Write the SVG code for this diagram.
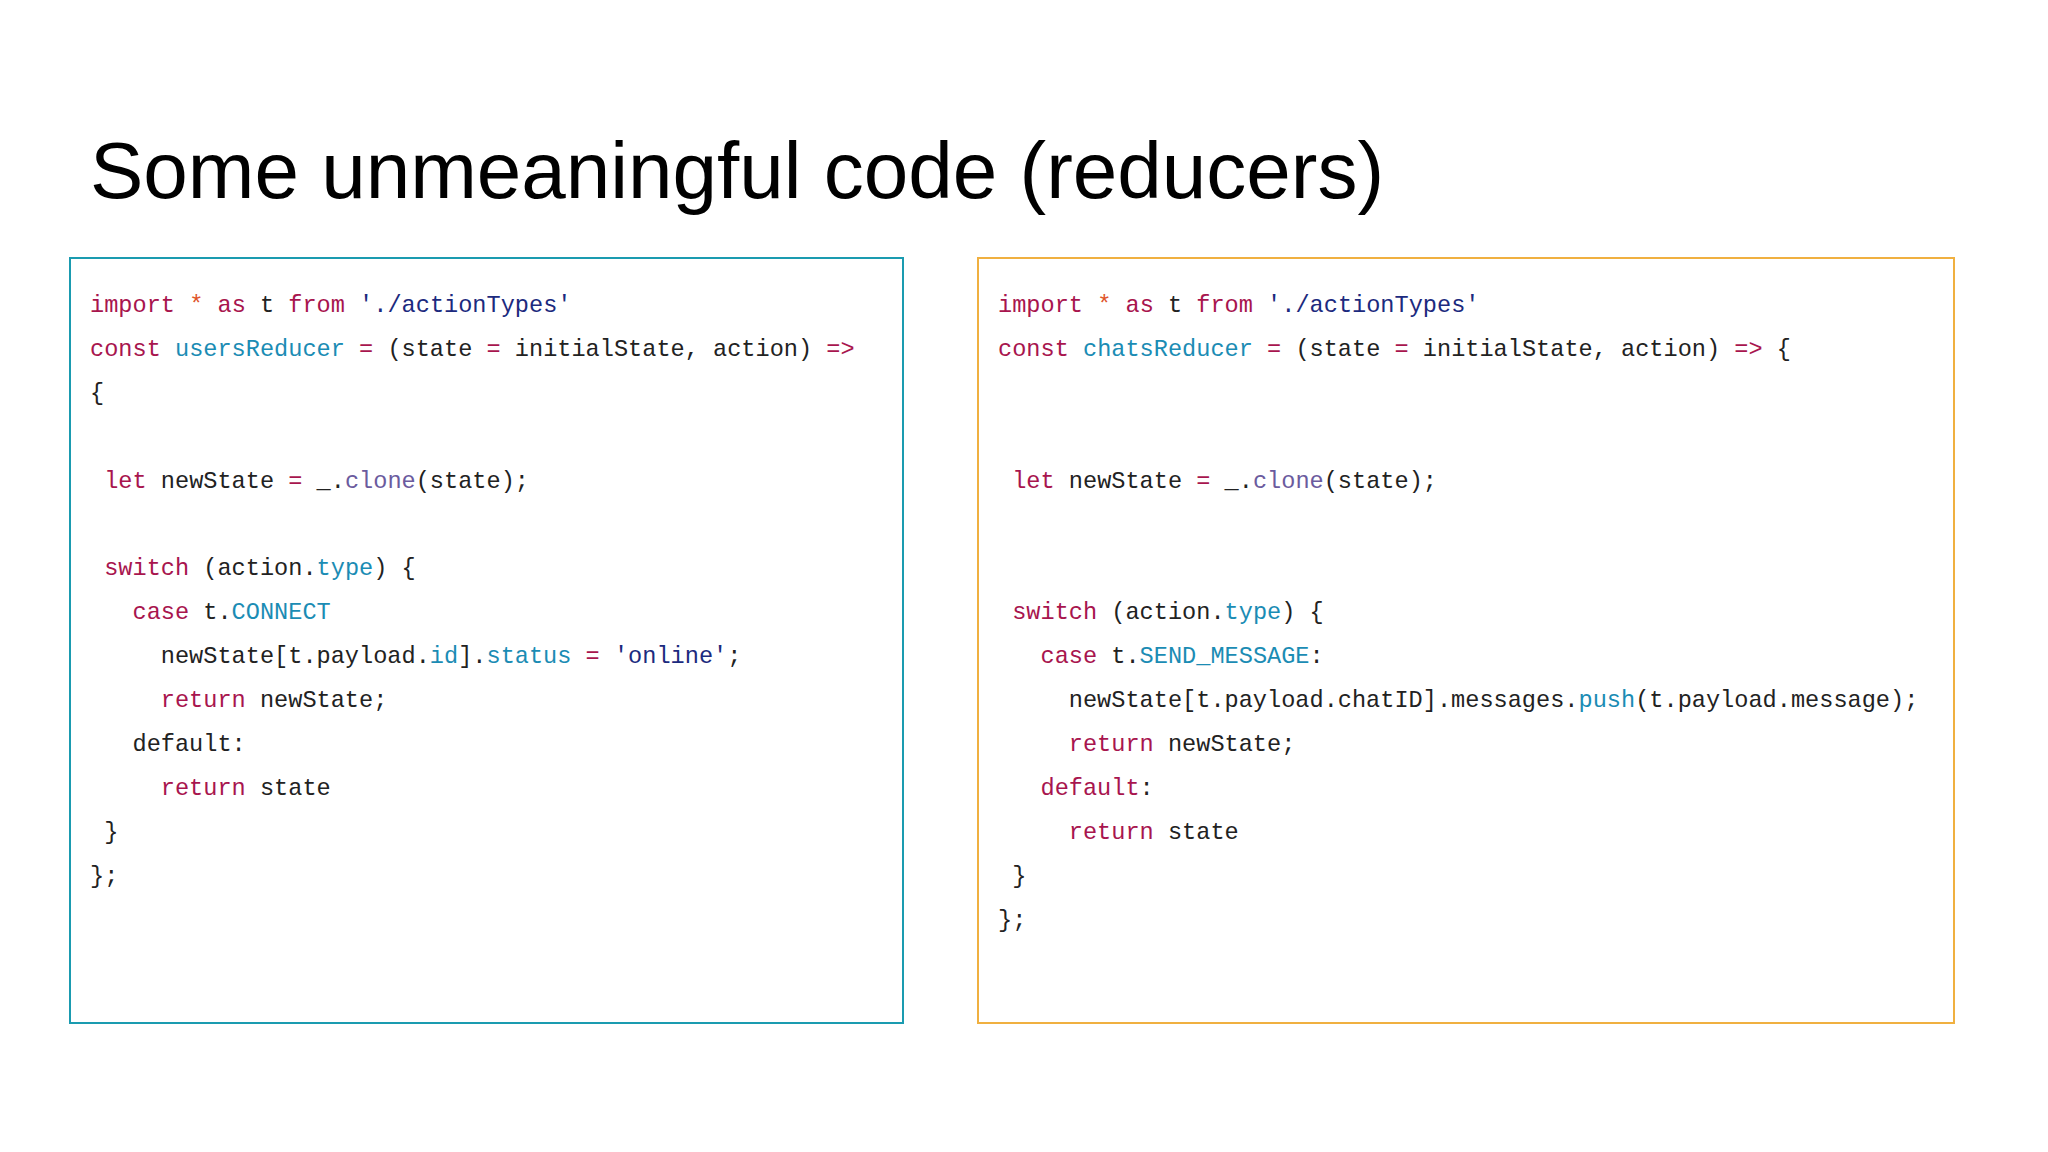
<svg xmlns="http://www.w3.org/2000/svg" width="2048" height="1152" viewBox="0 0 2048 1152">
<style>
.t{font-family:"Liberation Sans",Arial,sans-serif;font-size:80px;fill:#000}
.c{font-family:"Liberation Mono","DejaVu Sans Mono",monospace;font-size:23.6px;fill:#222;white-space:pre}
.k{fill:#a8154e}.b{fill:#1b8cb4}.s{fill:#1c2a7e}.p{fill:#6b5b9e}.o{fill:#e0552a}
</style>
<rect width="2048" height="1152" fill="#fff"/>
<text class="t" x="90" y="198">Some unmeaningful code (reducers)</text>
<g id="users">
<rect x="70" y="258" width="833" height="765" fill="none" stroke="#1a9bb0" stroke-width="2"/>
<text class="c" x="90" y="312" xml:space="preserve"><tspan class="k">import</tspan> <tspan class="o">*</tspan> <tspan class="k">as</tspan> t <tspan class="k">from</tspan> <tspan class="s">'./actionTypes'</tspan></text>
<text class="c" x="90" y="356" xml:space="preserve"><tspan class="k">const</tspan> <tspan class="b">usersReducer</tspan> <tspan class="k">=</tspan> (state <tspan class="k">=</tspan> initialState, action) <tspan class="k">=&gt;</tspan></text>
<text class="c" x="90" y="400" xml:space="preserve">{</text>
<text class="c" x="90" y="488" xml:space="preserve"> <tspan class="k">let</tspan> newState <tspan class="k">=</tspan> _.<tspan class="p">clone</tspan>(state);</text>
<text class="c" x="90" y="575" xml:space="preserve"> <tspan class="k">switch</tspan> (action.<tspan class="b">type</tspan>) {</text>
<text class="c" x="90" y="619" xml:space="preserve">   <tspan class="k">case</tspan> t.<tspan class="b">CONNECT</tspan></text>
<text class="c" x="90" y="663" xml:space="preserve">     newState[t.payload.<tspan class="b">id</tspan>].<tspan class="b">status</tspan> <tspan class="k">=</tspan> <tspan class="s">'online'</tspan>;</text>
<text class="c" x="90" y="707" xml:space="preserve">     <tspan class="k">return</tspan> newState;</text>
<text class="c" x="90" y="751" xml:space="preserve">   default:</text>
<text class="c" x="90" y="795" xml:space="preserve">     <tspan class="k">return</tspan> state</text>
<text class="c" x="90" y="839" xml:space="preserve"> }</text>
<text class="c" x="90" y="883" xml:space="preserve">};</text>
</g>
<g id="chats">
<rect x="978" y="258" width="976" height="765" fill="none" stroke="#f0b040" stroke-width="2"/>
<text class="c" x="998" y="312" xml:space="preserve"><tspan class="k">import</tspan> <tspan class="o">*</tspan> <tspan class="k">as</tspan> t <tspan class="k">from</tspan> <tspan class="s">'./actionTypes'</tspan></text>
<text class="c" x="998" y="356" xml:space="preserve"><tspan class="k">const</tspan> <tspan class="b">chatsReducer</tspan> <tspan class="k">=</tspan> (state <tspan class="k">=</tspan> initialState, action) <tspan class="k">=&gt;</tspan> {</text>
<text class="c" x="998" y="488" xml:space="preserve"> <tspan class="k">let</tspan> newState <tspan class="k">=</tspan> _.<tspan class="p">clone</tspan>(state);</text>
<text class="c" x="998" y="619" xml:space="preserve"> <tspan class="k">switch</tspan> (action.<tspan class="b">type</tspan>) {</text>
<text class="c" x="998" y="663" xml:space="preserve">   <tspan class="k">case</tspan> t.<tspan class="b">SEND_MESSAGE</tspan>:</text>
<text class="c" x="998" y="707" xml:space="preserve">     newState[t.payload.chatID].messages.<tspan class="b">push</tspan>(t.payload.message);</text>
<text class="c" x="998" y="751" xml:space="preserve">     <tspan class="k">return</tspan> newState;</text>
<text class="c" x="998" y="795" xml:space="preserve">   <tspan class="k">default</tspan>:</text>
<text class="c" x="998" y="839" xml:space="preserve">     <tspan class="k">return</tspan> state</text>
<text class="c" x="998" y="883" xml:space="preserve"> }</text>
<text class="c" x="998" y="927" xml:space="preserve">};</text>
</g>
<g id="connectors"/>
</svg>
